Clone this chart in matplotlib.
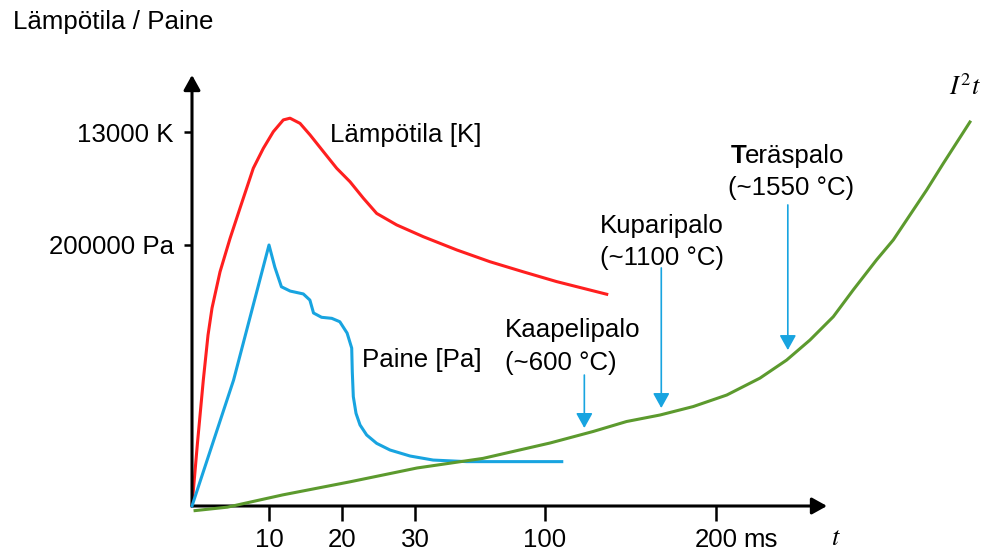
import numpy as np
import matplotlib
matplotlib.use("Agg")
import matplotlib.pyplot as plt

plt.rcParams["font.family"] = ["Liberation Sans", "DejaVu Sans"]
plt.rcParams["mathtext.fontset"] = "stix"

W, H = 989, 552

RED = "#ff1f1f"
BLUE = "#18a4e0"
GREEN = "#5c9a2e"

# schematic time axis: tick values are not evenly spaced
TIME_KNOTS = [-100, 0, 10, 20, 30, 100, 200, 400]   # ms
KNOT_POS = [-770, 0, 77, 150, 223, 353, 524, 866]
X_TICKS = [10, 20, 30, 100, 200]
X_TICK_LABELS = ["10", "20", "30", "100", "200"]

# arc temperature [K]
temp_t = [0, 0.71, 1.47, 2.08, 2.6, 3.64, 4.94, 6.23, 7.96, 9.26, 10.59, 11.96,
          12.88, 14.25, 15.62, 17.44, 19.27, 21.1, 22.92, 24.75, 27.49, 34.5,
          52.5, 70.4, 88.3, 106.8, 136.1]
temp_k = [0, 2190, 4380, 5940, 6880, 8140, 9300, 10350, 11740, 12430, 13010,
          13420, 13480, 13300, 12900, 12320, 11740, 11270, 10700, 10170, 9770,
          9360, 8900, 8490, 8140, 7800, 7360]

# pressure [Pa]
pres_t = [0, 5.4, 10.0, 10.8, 11.7, 12.9, 14.7, 15.6, 16.1, 17.2, 18.6, 19.7,
          20.7, 21.33, 21.41, 21.55, 21.92, 22.47, 23.38, 24.75, 26.58, 29.32,
          39.8, 57.8, 109.8]
pres_pa = [0, 96500, 200000, 183000, 168000, 164700, 162500, 157800, 147900,
           144600, 143800, 141200, 132500, 121000, 102700, 83800, 71000, 62100,
           54400, 48000, 42900, 38300, 35200, 34000, 34000]

# let-through energy I^2t (relative)
i2t_t = [0.4, 4.6, 11.9, 21.1, 31.1, 66.6, 102.9, 108.8, 128.1, 147.7, 167.3,
         186.7, 206.3, 225.7, 241.3, 254.9, 268.6, 280.3, 293.9, 303.7, 323.2,
         332.9, 348.5]
i2t_rel = [-0.012, -0.003, 0.029, 0.063, 0.099, 0.124, 0.164, 0.171, 0.194,
           0.220, 0.237, 0.259, 0.289, 0.333, 0.380, 0.432, 0.493, 0.563, 0.641,
           0.693, 0.823, 0.892, 1.0]

# fire thresholds marked on the I^2t curve
FIRE_T = [123, 168, 242]
ARROW_TOP = [0.341, 0.620, 0.784]
ARROW_TIP = [0.203, 0.255, 0.406]


def fwd(t):
    return np.interp(t, TIME_KNOTS, KNOT_POS)


def inv(p):
    return np.interp(p, KNOT_POS, TIME_KNOTS)


def fx(x):
    return x / W


def fy(y):
    return 1 - y / H


# pixel layout of the drawing
ORIGIN_X, ORIGIN_Y = 192, 506
K_PER_PX = 13000 / (ORIGIN_Y - 132)
PA_PER_PX = 200000 / (ORIGIN_Y - 245)
REL_PER_PX = 1 / (ORIGIN_Y - 122)

fig = plt.figure(figsize=(W / 100, H / 100), dpi=100)
ax = fig.add_axes([0, 0, 1, 1])
ax.set_xscale("function", functions=(fwd, inv))
ax.set_xlim(inv(-ORIGIN_X), inv(W - ORIGIN_X))
ax.set_ylim(-(H - ORIGIN_Y) * K_PER_PX, ORIGIN_Y * K_PER_PX)

ax_p = ax.twinx()
ax_p.set_ylim(-(H - ORIGIN_Y) * PA_PER_PX, ORIGIN_Y * PA_PER_PX)
ax_i = ax.twinx()
ax_i.set_ylim(-(H - ORIGIN_Y) * REL_PER_PX, ORIGIN_Y * REL_PER_PX)

for a in (ax, ax_p, ax_i):
    for s in a.spines.values():
        s.set_visible(False)
    a.spines["left"].set_position(("data", 0))
ax.spines["bottom"].set_position(("data", 0))

fs = 18.6

# ticks
ax.set_xticks(X_TICKS)
ax.set_xticklabels(X_TICK_LABELS)
ax.xaxis.set_minor_locator(matplotlib.ticker.NullLocator())
ax.tick_params(axis="x", direction="out", length=11, width=1.8, pad=5, labelsize=fs)
ax.set_yticks([13000])
ax.set_yticklabels(["13000 K"])
ax.tick_params(axis="y", direction="out", length=6, width=1.8, pad=7, labelsize=fs)

ax_p.yaxis.tick_left()
ax_p.set_yticks([200000])
ax_p.set_yticklabels(["200000 Pa"])
ax_p.tick_params(axis="y", direction="out", length=6, width=1.8, pad=7, labelsize=fs)
ax_i.yaxis.set_visible(False)

# axis arrows
axis_arrow = dict(arrowstyle="-|>,head_length=0.9,head_width=0.5", mutation_scale=10,
                  color="black", lw=2.2, shrinkA=0, shrinkB=0)
ax.annotate("", xy=(0, (ORIGIN_Y - 75) * K_PER_PX), xytext=(0, 0), arrowprops=axis_arrow)
ax.annotate("", xy=(inv(827 - ORIGIN_X), 0), xytext=(0, 0), arrowprops=axis_arrow)

# curves
ax.plot(temp_t, temp_k, color=RED, lw=2.2, solid_joinstyle="round")
ax_p.plot(pres_t, pres_pa, color=BLUE, lw=2.2, solid_joinstyle="round")
ax_i.plot(i2t_t, i2t_rel, color=GREEN, lw=2.2, solid_joinstyle="round")

for t, top, tip in zip(FIRE_T, ARROW_TOP, ARROW_TIP):
    ax_i.annotate("", xy=(t, tip), xytext=(t, top),
                  arrowprops=dict(arrowstyle="-|>,head_length=0.9,head_width=0.5",
                                  mutation_scale=10, color=BLUE, lw=1.2,
                                  shrinkA=0, shrinkB=0))

# texts
fig.text(fx(13), fy(29), "Lämpötila / Paine", fontsize=fs, va="baseline")
fig.text(fx(330), fy(142), "Lämpötila [K]", fontsize=fs, va="baseline")
fig.text(fx(362), fy(367), "Paine [Pa]", fontsize=fs, va="baseline")
fig.text(fx(505), fy(337), "Kaapelipalo", fontsize=fs, va="baseline")
fig.text(fx(505), fy(370), "(~600 °C)", fontsize=fs, va="baseline")
fig.text(fx(600), fy(233), "Kuparipalo", fontsize=fs, va="baseline")
fig.text(fx(600), fy(265), "(~1100 °C)", fontsize=fs, va="baseline")
fig.text(fx(731), fy(163), "T", fontsize=fs, va="baseline", fontweight="bold")
fig.text(fx(745), fy(163), "eräspalo", fontsize=fs, va="baseline")
fig.text(fx(728), fy(195), "(~1550 °C)", fontsize=fs, va="baseline")
fig.text(fx(743), fy(547), "ms", fontsize=fs, va="baseline")
fig.text(fx(831), fy(545), "$t$", fontsize=19, va="baseline")
fig.text(fx(949), fy(95), "$I^2t$", fontsize=19, va="baseline")

fig.savefig("out.png", dpi=100, facecolor="white")
